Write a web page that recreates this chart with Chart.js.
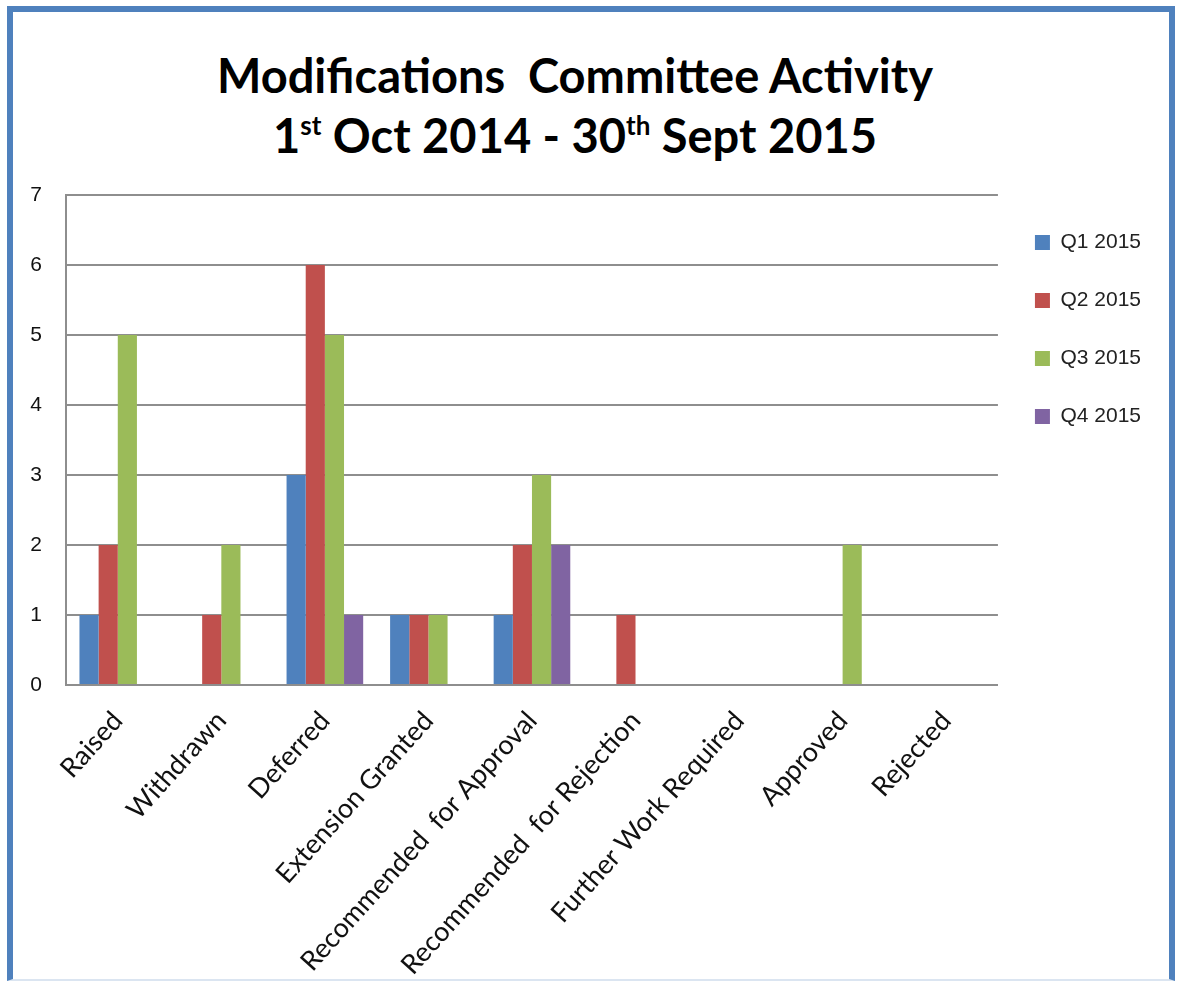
<!DOCTYPE html>
<html>
<head>
<meta charset="utf-8">
<script src="https://cdn.jsdelivr.net/npm/chart.js@4"></script>
<style>
  html, body { margin: 0; padding: 0; background: #fff; }
  #wrap { position: relative; width: 1181px; height: 985px; overflow: hidden; }
  #frame {
    position: absolute; left: 7px; top: 6px; width: 1168px; height: 975px;
    border-left: 6px solid #4f81bd; border-top: 6px solid #4f81bd; border-right: 6px solid #4f81bd;
    border-bottom: 2px solid #dbe5f1; box-sizing: border-box;
  }
  #title {
    position: absolute; left: 0; top: 45px; width: 1150px; text-align: center;
    font-family: Lato, "Noto Sans", sans-serif; font-weight: bold; font-size: 47px;
    line-height: 60px; color: #000;
  }
  #title sup { font-size: 26px; vertical-align: 0; position: relative; top: -18px; }
  #c { position: absolute; left: 0; top: 0; }
</style>
</head>
<body>
<div id="wrap">
  <div id="frame"></div>
  <div id="title">Modifications&nbsp; Committee Activity<br>1<sup>st</sup> Oct 2014 - 30<sup>th</sup> Sept 2015</div>
  <canvas id="c" width="1181" height="985"></canvas>
</div>
<script>
const stages = ["Raised", "Withdrawn", "Deferred", "Extension Granted", "Recommended  for Approval",
  "Recommended  for Rejection", "Further Work Required", "Approved", "Rejected"];

const quarters = ["Q1 2015", "Q2 2015", "Q3 2015", "Q4 2015"];

const q1 = [1, 0, 3, 1, 1, 0, 0, 0, 0];
const q2 = [2, 1, 6, 1, 2, 1, 0, 0, 0];
const q3 = [5, 2, 5, 1, 3, 0, 0, 2, 0];
const q4 = [0, 0, 1, 0, 2, 0, 0, 0, 0];

const yTicks = [0, 1, 2, 3, 4, 5, 6, 7];

const colours = ["#4f81bd", "#c0504d", "#9bbb59", "#8064a2"];
const gridGrey = "#8e8e8e";

const series = [q1, q2, q3, q4];

new Chart(document.getElementById("c"), {
  type: "bar",
  data: {
    labels: stages,
    datasets: series.map((vals, i) => ({
      label: quarters[i],
      data: vals,
      backgroundColor: colours[i],
      borderWidth: 0,
      categoryPercentage: 0.74,
      barPercentage: 1
    }))
  },
  options: {
    responsive: false,
    animation: false,
    devicePixelRatio: 1,
    layout: { padding: { top: 195, left: 14, right: 30, bottom: 10 } },
    plugins: {
      title: { display: false },
      tooltip: { enabled: false },
      legend: {
        position: "right",
        align: "start",
        fullSize: false,
        labels: {
          boxWidth: 15,
          boxHeight: 15,
          padding: 37,
          color: "#222",
          font: { family: "'Liberation Sans', Arial, sans-serif", size: 21 }
        }
      }
    },
    scales: {
      x: {
        grid: { display: false, drawTicks: false },
        border: { display: true, color: gridGrey, width: 2 },
        ticks: {
          minRotation: 48,
          maxRotation: 48,
          autoSkip: false,
          padding: 20,
          color: "#111",
          font: { family: "Lato, 'Open Sans', sans-serif", size: 27 }
        },
        afterFit: s => { s.height = 290; }
      },
      y: {
        min: 0,
        max: 7,
        afterBuildTicks: s => { s.ticks = yTicks.map(v => ({ value: v })); },
        grid: { color: gridGrey, lineWidth: 2, drawTicks: false },
        border: { display: true, color: gridGrey, width: 2 },
        ticks: {
          padding: 24,
          color: "#111",
          font: { family: "'Liberation Sans', Arial, sans-serif", size: 21 }
        },
        afterFit: s => { s.width = 52; }
      }
    }
  }
});
</script>
</body>
</html>
